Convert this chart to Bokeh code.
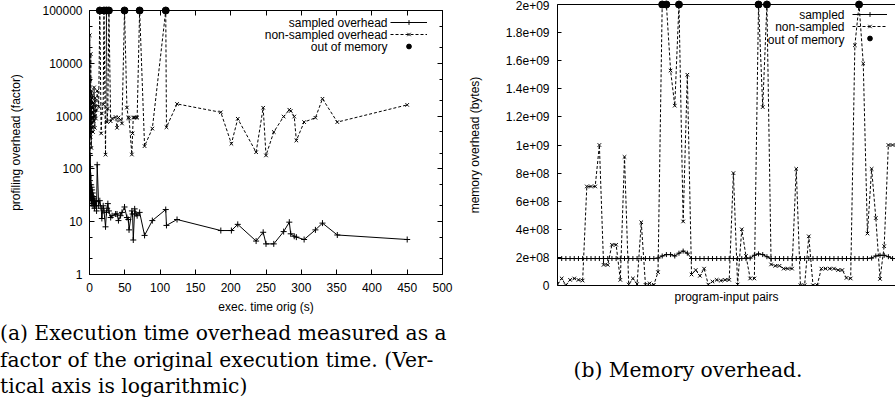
from bokeh.plotting import figure
from bokeh.models import (FixedTicker, LinearAxis, LogAxis, Range1d, Label,
                          Legend, LegendItem, CustomLabelingPolicy, Div)
from bokeh.layouts import row, column
from bokeh.embed import file_html
from bokeh.resources import INLINE

# ---------------- panel (a): execution time overhead ----------------
exec_time = [0.2, 0.4, 0.6, 0.8, 1.0, 1.2, 1.5, 1.8, 2.0, 2.3, 2.6, 3.0, 3.3,
             3.7, 4.0, 4.5, 5.0, 5.5, 6.0, 6.5, 7.0, 7.5, 8.0, 9.0, 10.0,
             10.9, 13.0, 14.6, 16.5, 17.5, 19.4, 20.5, 22.7, 24.0, 25.0, 26.0,
             27.5, 30.0, 32.0, 37.0, 39.0, 41.0, 44.0, 46.0, 49.6, 53.0, 55.0,
             56.0, 60.0, 61.0, 62.0, 64.0, 66.0, 67.5, 71.0, 78.0, 89.0,
             108.0, 109.0, 124.0, 186.0, 201.0, 210.0, 236.0, 246.0, 250.0,
             261.0, 275.0, 283.0, 285.0, 290.0, 293.0, 304.0, 320.0, 330.0,
             351.0, 450.0]
sampled_overhead = [30, 250, 60, 180, 40, 110, 28, 75, 35, 50, 22, 45, 30,
                    40, 25, 35, 20, 30, 22, 28, 18, 25, 20, 24, 16,
                    120, 20, 25, 18, 11.5, 20, 16, 8, 15, 18, 22,
                    16, 12, 13, 14, 14, 10.5, 13, 15, 19, 12, 11,
                    7, 16, 14, 4.5, 17.5, 14, 13, 15, 5.5, 10.5,
                    17, 8.5, 11, 6.8, 6.8, 8.9, 4.3, 6.3, 3.8,
                    3.8, 6.5, 9.8, 5.9, 5.3, 5.1, 4.6, 7.0, 9.4,
                    5.6, 4.6]
nonsampled_overhead = [600, 34000, 300, 5000, 800, 2000, 400, 15000, 700,
                       1500, 250, 3000, 900, 600, 2500, 1200, 500, 1800, 800,
                       3500, 1000, 600, 2200, 900, 1300,
                       3000, 1500, 100000, 470, 1120, 1660, 100000, 186,
                       100000, 770, 1390, 100000, 800, 900, 960, 600, 940,
                       850, 725, 100000, 1450, 940, 900, 187, 470, 940, 940,
                       940, 940, 100000, 270, 580, 100000, 615, 1700, 1180,
                       300, 890, 207, 1440, 180, 500, 980, 1320, 1250, 980,
                       345, 770, 930, 2130, 770, 1630]
oom_exec_time = [14.6, 20.5, 24.0, 27.5, 49.6, 71.0, 108.0]
oom_overhead = [100000, 100000, 100000, 100000, 100000, 100000, 100000]

x_ticks_a = [0, 50, 100, 150, 200, 250, 300, 350, 400, 450, 500]
y_ticks_a = [1, 10, 100, 1000, 10000, 100000]
y_tick_labels_a = ["1", "10", "100", "1000", "10000", "100000"]
y_minor_a = [2, 5, 20, 50, 200, 500, 2000, 5000, 20000, 50000]

# ---------------- panel (b): memory overhead ----------------
mem_nonsampled = [1e7, 5e7, 2e6, 4e7, 5e7, 4e7, 3.5e7, 7.05e8, 7.05e8, 7.05e8,
                  1.0e9, 1.47e8, 1.47e8, 2.9e8, 2.9e8, 4e7, 9.15e8, 7e6, 5e7,
                  1e7, 4.5e8, 5e6, 1.5e7, 5e6, 9.5e7, 2e9, 2e9, 1.53e9,
                  1.28e9, 2e9, 4.56e8, 1.5e9, 7.8e7, 1.1e8, 6.9e7, 1.2e8,
                  7e6, 2.8e7, 4e7, 3.5e7, 4e7, 4e7, 8e8, 7e6, 4e8, 2.1e8,
                  5e7, 5e7, 2e9, 1.27e9, 2e9, 1.5e8, 1.4e8, 1.4e8, 1.2e8,
                  1.2e8, 1.2e8, 8.3e8, 2e6, 2e6, 3.5e8, 2e6, 2e6, 1.2e8,
                  1.2e8, 1.2e8, 1.2e8, 1.1e8, 1.1e8, 5.4e7, 5e7, 1.71e9,
                  2e9, 1.58e9, 3.7e8, 8.3e8, 4.8e8, 4.7e7, 2.8e8, 1.0e9,
                  1.0e9, 1.0e9]
mem_sampled = ([1.92e8] * 24 +
               [1.95e8, 2.1e8, 2.2e8, 2.2e8, 2.1e8, 2.3e8, 2.45e8, 2.3e8] +
               [1.92e8] * 14 +
               [1.95e8, 2.15e8, 2.25e8, 2.2e8, 2.05e8] +
               [1.92e8] * 24 +
               [1.95e8, 2.1e8, 2.15e8, 2.15e8, 2.05e8, 1.92e8, 1.92e8])
pair_index = list(range(len(mem_nonsampled)))
oom_pairs = [25, 26, 29, 48, 50, 72]
oom_mem = [2e9, 2e9, 2e9, 2e9, 2e9, 2e9]

y_ticks_b = [0, 200000000, 400000000, 600000000, 800000000, 1000000000,
             1200000000, 1400000000, 1600000000, 1800000000, 2000000000]
y_tick_labels_b = ["0", "2e+08", "4e+08", "6e+08", "8e+08", "1e+09",
                   "1.2e+09", "1.4e+09", "1.6e+09", "1.8e+09", "2e+09"]

caption_a = ["(a) Execution time overhead measured as a",
             "factor of the original execution time. (Ver-",
             "tical axis is logarithmic)"]
caption_b = "(b) Memory overhead."

FONT = "Liberation Sans"
SERIF = "DejaVu Serif"
TXT = "#000000"


def style_axis(ax, tick_in=5):
    ax.axis_line_color = "black"
    ax.major_tick_in = tick_in
    ax.major_tick_out = 0
    ax.minor_tick_in = 3
    ax.minor_tick_out = 0
    ax.major_tick_line_color = "black"
    ax.minor_tick_line_color = "black"
    ax.major_label_text_font = FONT
    ax.major_label_text_font_size = "12px"
    ax.major_label_text_color = TXT
    ax.axis_label_text_font = FONT
    ax.axis_label_text_font_size = "12px"
    ax.axis_label_text_font_style = "normal"
    ax.axis_label_text_color = TXT


def hide_labels(ax):
    ax.major_label_text_font_size = "1px"
    ax.major_label_standoff = 0
    ax.major_label_policy = CustomLabelingPolicy(code="return false")


# ---------------- figure (a) ----------------
H = 316
W1 = 460
p1 = figure(width=W1, height=H, y_axis_type="log",
            x_range=Range1d(0, 500), y_range=Range1d(1, 100000),
            output_backend="svg", toolbar_location=None,
            min_border_left=89, min_border_right=18,
            min_border_top=10, min_border_bottom=42)
p1.xgrid.visible = False
p1.ygrid.visible = False
p1.outline_line_color = "black"
p1.outline_line_alpha = 1.0
p1.background_fill_color = "white"
p1.border_fill_color = "white"

xt_a = FixedTicker(ticks=x_ticks_a, minor_ticks=[])
yt_a = FixedTicker(ticks=y_ticks_a, minor_ticks=y_minor_a)
p1.xaxis.ticker = xt_a
p1.yaxis.ticker = yt_a
p1.yaxis.major_label_overrides = dict(zip(y_ticks_a, y_tick_labels_a))
for ax in p1.xaxis + p1.yaxis:
    style_axis(ax)
p1.xaxis.axis_label = "exec. time orig (s)"
p1.yaxis.axis_label = "profiling overhead (factor)"
p1.xaxis.major_label_standoff = 8
p1.yaxis.major_label_standoff = 7
p1.xaxis.axis_label_standoff = 5
p1.yaxis.axis_label_standoff = 16

top_a = LinearAxis(ticker=xt_a)
style_axis(top_a)
hide_labels(top_a)
p1.add_layout(top_a, "above")
right_a = LogAxis(ticker=yt_a)
style_axis(right_a)
hide_labels(right_a)
p1.add_layout(right_a, "right")

ls = p1.line(exec_time, sampled_overhead, line_color="black", line_width=1)
ms = p1.scatter(exec_time, sampled_overhead, marker="cross", size=6,
                line_color="black", line_width=1)
ln = p1.line(exec_time, nonsampled_overhead, line_color="black",
             line_width=1, line_dash="3 2")
mn = p1.scatter(exec_time, nonsampled_overhead, marker="x", size=5,
                line_color="black", line_width=1)
mo = p1.scatter(oom_exec_time, oom_overhead, marker="circle", size=7,
                fill_color="black", line_color="black", level="overlay")

leg_a = Legend(items=[LegendItem(label=" ", renderers=[ls, ms]),
                      LegendItem(label=" ", renderers=[ln, mn]),
                      LegendItem(label=" ", renderers=[mo])],
               location=(301, 222), orientation="vertical",
               glyph_width=37, glyph_height=12, label_height=12,
               label_standoff=0, spacing=0, padding=0,
               margin=0, border_line_color=None, background_fill_alpha=0,
               label_text_font_size="12px")
p1.add_layout(leg_a)
for txt, yy in [("sampled overhead", 252), ("non-sampled overhead", 240),
                ("out of memory", 228)]:
    p1.add_layout(Label(x=298, y=yy, x_units="screen", y_units="screen",
                        text=txt, text_align="right", text_baseline="middle",
                        text_font=FONT, text_font_size="12px",
                        text_color=TXT))

# ---------------- figure (b) ----------------
W2 = 895 - W1
p2 = figure(width=W2, height=H,
            x_range=Range1d(0, 80.7), y_range=Range1d(0, 2e9),
            output_backend="svg", toolbar_location=None,
            min_border_left=557 - W1, min_border_right=0,
            min_border_top=3, min_border_bottom=31)
p2.xgrid.visible = False
p2.ygrid.visible = False
p2.outline_line_color = None
p2.background_fill_color = "white"
p2.border_fill_color = "white"

yt_b = FixedTicker(ticks=y_ticks_b, minor_ticks=[])
p2.yaxis.ticker = yt_b
p2.yaxis.major_label_overrides = dict(zip(y_ticks_b, y_tick_labels_b))
xt_b = FixedTicker(ticks=[0], minor_ticks=[])
p2.xaxis.ticker = xt_b
for ax in p2.xaxis + p2.yaxis:
    style_axis(ax, tick_in=4)
p2.xaxis.major_tick_in = 0
hide_labels(p2.xaxis[0])
p2.xaxis.axis_label = "program-input pairs"
p2.yaxis.axis_label = "memory overhead (bytes)"
p2.yaxis.major_label_standoff = 8
p2.xaxis.axis_label_standoff = 0
p2.yaxis.axis_label_standoff = 21

top_b = LinearAxis(ticker=FixedTicker(ticks=[0], minor_ticks=[]))
style_axis(top_b)
top_b.major_tick_in = 0
hide_labels(top_b)
p2.add_layout(top_b, "above")

ls2 = p2.line(pair_index, mem_sampled, line_color="black", line_width=1)
ms2 = p2.scatter(pair_index, mem_sampled, marker="cross", size=5,
                 line_color="black", line_width=1)
ln2 = p2.line(pair_index, mem_nonsampled, line_color="black", line_width=1,
              line_dash="3 2")
mn2 = p2.scatter(pair_index, mem_nonsampled, marker="x", size=5,
                 line_color="black", line_width=1)
mo2 = p2.scatter(oom_pairs, oom_mem, marker="circle", size=7,
                 fill_color="black", line_color="black", level="overlay")

leg_b = Legend(items=[LegendItem(label=" ", renderers=[ls2, ms2]),
                      LegendItem(label=" ", renderers=[ln2, mn2]),
                      LegendItem(label=" ", renderers=[mo2])],
               location=(295, 241), orientation="vertical",
               glyph_width=35, glyph_height=12, label_height=12,
               label_standoff=0, spacing=0, padding=0,
               margin=0, border_line_color=None, background_fill_alpha=0,
               label_text_font_size="12px")
p2.add_layout(leg_b)
for txt, yy in [("sampled", 271), ("non-sampled", 259),
                ("out of memory", 246)]:
    p2.add_layout(Label(x=287, y=yy, x_units="screen", y_units="screen",
                        text=txt, text_align="right", text_baseline="middle",
                        text_font=FONT, text_font_size="12px",
                        text_color=TXT))

# ---------------- captions ----------------
cap_style = ("font-family:'DejaVu Serif';font-size:20.3px;line-height:26.5px;"
             "color:#000;margin:0;white-space:nowrap;")
div_a = Div(text='<div style="%spadding-top:4px;">%s</div>'
            % (cap_style, "<br>".join(caption_a)),
            width=W1, height=409 - H, margin=0)
div_b = Div(text='<div style="%spadding-top:41px;width:%dpx;'
            'text-align:center;">%s</div>'
            % (cap_style, 2 * (688 - W1), caption_b),
            width=W2, height=409 - H, margin=0)

layout = row(column(p1, div_a, spacing=0), column(p2, div_b, spacing=0),
             spacing=0)
open("out.html", "w").write(file_html(layout, INLINE))
